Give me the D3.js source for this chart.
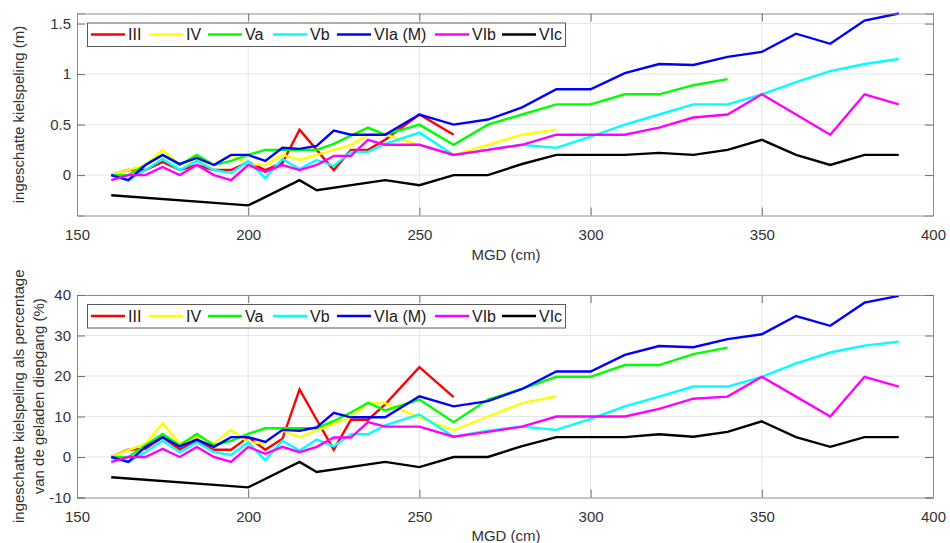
<!DOCTYPE html>
<html><head><meta charset="utf-8">
<script src="https://cdn.jsdelivr.net/npm/d3@7"></script>
<style>
body{margin:0;background:#fff;}
svg{display:block;font-family:"Liberation Sans",Arial,sans-serif;}
</style></head>
<body><svg id="c" width="950" height="543"></svg>
<script>
const mgd = [160,165,170,175,180,185,190,195,200,205,210,215,220,225,230,235,240,250,260,270,280,290,300,310,320,330,340,350,360,370,380,390];
const seriesNames = ["III","IV","Va","Vb","VIa (M)","VIb","VIc"];
const seriesColors = ["#ff0000","#ffff00","#00ff00","#00ffff","#0000ff","#ff00ff","#000000"];
const N = null;
// kielspeling (m)
const kielIII = [0,0.05,0.05,0.13,0.05,0.1,0.05,0.05,0.13,0.05,0.12,0.45,0.25,0.05,0.25,0.25,0.35,0.6,0.4];
const kielIV  = [0,0.05,0.1,0.25,0.1,0.15,0.1,0.2,0.11,0.1,0.2,0.15,0.2,0.25,0.3,0.4,0.4,0.3,0.2,0.3,0.4,0.45];
const kielVa  = [0,0,0.1,0.2,0.1,0.2,0.1,0.14,0.2,0.25,0.25,0.25,0.25,0.31,0.39,0.47,0.4,0.5,0.3,0.5,0.6,0.7,0.7,0.8,0.8,0.89,0.95];
const kielVb  = [0,-0.05,0.05,0.16,0.05,0.14,0.05,0.02,0.14,-0.03,0.16,0.06,0.15,0.09,0.23,0.23,0.31,0.42,0.2,0.25,0.3,0.27,0.38,0.5,0.6,0.7,0.7,0.8,0.92,1.03,1.1,1.15];
const kielVIa = [0,-0.05,0.1,0.2,0.11,0.17,0.1,0.2,0.2,0.14,0.27,0.26,0.29,0.44,0.4,0.4,0.4,0.6,0.5,0.55,0.67,0.85,0.85,1.01,1.1,1.09,1.17,1.22,1.4,1.3,1.53,1.6];
const kielVIb = [-0.05,0,0,0.08,0,0.1,0,-0.05,0.1,0.03,0.1,0.05,0.1,0.19,0.19,0.35,0.3,0.3,0.2,0.25,0.3,0.4,0.4,0.4,0.47,0.57,0.6,0.8,0.6,0.4,0.8,0.7];
const kielVIc = [-0.2,N,N,N,N,N,N,N,-0.3,N,N,-0.05,-0.15,N,N,N,-0.05,-0.1,0,0,0.11,0.2,0.2,0.2,0.22,0.2,0.25,0.35,0.2,0.1,0.2,0.2];
// percentage van de geladen diepgang (%)
const pctIII = [0,1.8,2,4.9,1.9,3.9,1.8,1.8,4.9,1.8,4.5,16.7,9.2,1.8,9.2,9.2,13,22.2,14.8];
const pctIV  = [0,1.7,3.3,8.3,3.3,5,3.3,6.7,3.7,3.3,6.6,4.9,6.6,8.2,9.8,13.4,13.3,9.8,6.6,10,13.3,15];
const pctVa  = [0,0,2.9,5.7,2.9,5.7,2.9,4,5.7,7.1,7.1,7.1,7.1,8.9,11,13.4,11.5,14.2,8.6,14.2,16.8,19.8,19.8,22.7,22.7,25.4,27];
const pctVb  = [0,-1.2,1.2,4,1.2,3.6,1.2,0.5,3.6,-0.8,4,1.6,4.3,2.6,5.6,5.6,7.8,10.5,5,6.5,7.5,6.7,9.4,12.5,14.9,17.4,17.4,19.8,23.1,25.8,27.5,28.5];
const pctVIa = [0,-1.2,2.5,4.9,2.6,4.3,2.5,4.9,4.9,3.7,6.7,6.5,7.3,10.9,9.8,9.8,9.8,15,12.5,13.8,16.8,21.1,21.1,25.2,27.4,27.1,29.1,30.3,34.8,32.4,38.1,39.8];
const pctVIb = [-1.2,0,0,2,0,2.5,0,-1.2,2.5,0.8,2.5,1.2,2.5,4.8,4.8,8.6,7.5,7.5,5,6.2,7.5,10,10,10,11.9,14.4,14.9,19.8,14.9,10,19.8,17.4];
const pctVIc = [-5,N,N,N,N,N,N,N,-7.5,N,N,-1.2,-3.7,N,N,N,-1.2,-2.5,0,0,2.7,4.9,4.9,4.9,5.6,5,6.2,8.8,4.9,2.5,4.9,4.9];

const xTicks = [150,200,250,300,350,400];
const yTicksTop = [0,0.5,1,1.5];
const yTicksBot = [-10,0,10,20,30,40];

const svg = d3.select("#c");
const L = 77, R = 933;

function panel(cfg){
  const x = d3.scaleLinear().domain([150,400]).range([L,R]);
  const y = d3.scaleLinear().domain(cfg.ydom).range([cfg.bottom,cfg.top]);
  const g = svg.append("g");
  // grid
  g.append("g").selectAll("line").data(xTicks.slice(1,-1)).join("line")
    .attr("x1",d=>x(d)).attr("x2",d=>x(d)).attr("y1",cfg.top).attr("y2",cfg.bottom)
    .attr("stroke","#e5e5e5").attr("stroke-width",1);
  g.append("g").selectAll("line").data(cfg.yticks.filter(v=>v>cfg.ydom[0]&&v<cfg.ydom[1])).join("line")
    .attr("x1",L).attr("x2",R).attr("y1",d=>y(d)).attr("y2",d=>y(d))
    .attr("stroke","#e5e5e5").attr("stroke-width",1);
  // lines
  const line = d3.line().x(d=>x(d[0])).y(d=>y(d[1]));
  cfg.series.forEach((s,i)=>{
    const pts = mgd.map((m,j)=>[m,s[j]]).filter(p=>p[1]!==null && p[1]!==undefined);
    g.append("path").attr("d",line(pts)).attr("fill","none")
      .attr("stroke",seriesColors[i]).attr("stroke-width",2.4).attr("stroke-linejoin","miter");
  });
  const tl = 8;
  const xb = d3.axisBottom(x).tickValues(xTicks).tickSize(-tl).tickFormat(d3.format("d")).tickPadding(14);
  const gb = g.append("g").attr("transform",`translate(0,${cfg.bottom})`).call(xb);
  const xt = d3.axisTop(x).tickValues(xTicks).tickSize(-tl).tickFormat("");
  const gt = g.append("g").attr("transform",`translate(0,${cfg.top})`).call(xt);
  const yl = d3.axisLeft(y).tickValues(cfg.yticks).tickSize(-tl).tickFormat(d=>String(d)).tickPadding(6);
  const gl = g.append("g").attr("transform",`translate(${L},0)`).call(yl);
  const yr = d3.axisRight(y).tickValues(cfg.yticks).tickSize(-tl).tickFormat("");
  const gr = g.append("g").attr("transform",`translate(${R},0)`).call(yr);
  [gb,gt,gl,gr].forEach(a=>{
    a.select(".domain").attr("stroke","#8c8c8c");
    a.selectAll(".tick line").attr("stroke","#6e6e6e");
    a.selectAll("text").attr("fill","#333").attr("font-size",15).attr("font-family","Liberation Sans, Arial, sans-serif");
  });
  gb.selectAll("text").attr("dy","0.71em");
  // x label
  g.append("text").attr("x",506).attr("y",cfg.xlabY).attr("text-anchor","middle")
    .attr("font-size",15).attr("fill","#333").text("MGD (cm)");
  // y label
  const cy = (cfg.top+cfg.bottom)/2;
  cfg.ylabel.forEach((t,k)=>{
    g.append("text").attr("transform",`translate(${cfg.ylabX[k]},${cy}) rotate(-90)`)
      .attr("text-anchor","middle").attr("dominant-baseline","central")
      .attr("font-size",15).attr("fill","#333").text(t);
  });
  // legend
  const lg = g.append("g");
  lg.append("rect").attr("x",87.5).attr("y",cfg.legY+0.5).attr("width",478).attr("height",23.5)
    .attr("fill","#fff").attr("stroke","#5a5a5a").attr("stroke-width",1);
  const ly = cfg.legY+12;
  const lineX = [91,149,208,273,337,435,502];
  seriesNames.forEach((n,i)=>{
    lg.append("line").attr("x1",lineX[i]).attr("x2",lineX[i]+34).attr("y1",ly).attr("y2",ly)
      .attr("stroke",seriesColors[i]).attr("stroke-width",2.4);
    lg.append("text").attr("x",lineX[i]+37).attr("y",ly).attr("dominant-baseline","central")
      .attr("font-size",16).attr("fill","#1a1a1a").text(n);
  });
}

panel({top:13.5,bottom:215.5,ydom:[-0.4,1.6],yticks:yTicksTop,
  series:[kielIII,kielIV,kielVa,kielVb,kielVIa,kielVIb,kielVIc],
  xlabY:260,ylabel:["ingeschatte kielspeling (m)"],ylabX:[18],legY:22.5});
panel({top:295,bottom:497.5,ydom:[-10,40],yticks:yTicksBot,
  series:[pctIII,pctIV,pctVa,pctVb,pctVIa,pctVIb,pctVIc],
  xlabY:541,ylabel:["ingeschatte kielspeling als percentage","van de geladen diepgang (%)"],ylabX:[18,38],legY:304});
</script></body></html>
